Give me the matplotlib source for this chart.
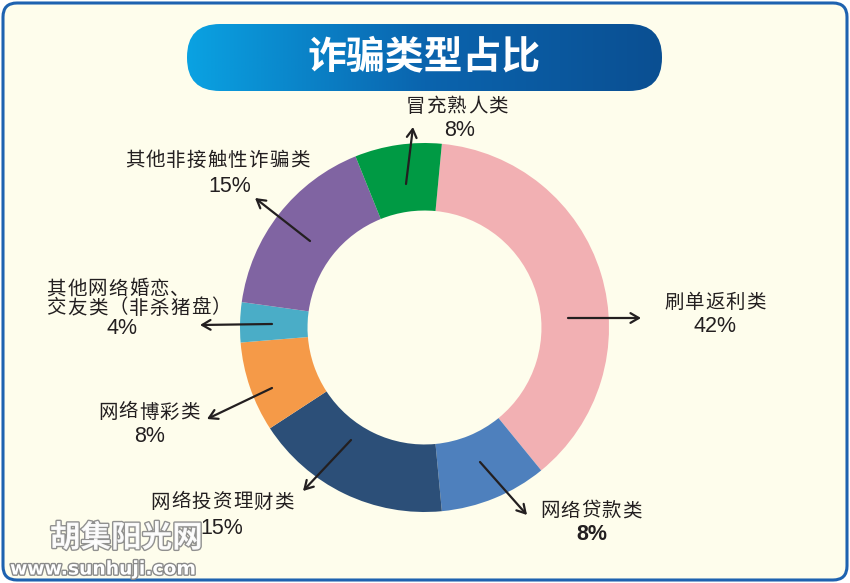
import matplotlib
matplotlib.use("Agg")
import matplotlib.pyplot as plt
import numpy as np
from matplotlib.patches import FancyBboxPatch
from matplotlib.colors import LinearSegmentedColormap
import matplotlib.patheffects as pe

plt.rcParams['font.family'] = ['Noto Sans CJK SC', 'DejaVu Sans']

# ---- data ----
categories = ["刷单返利类", "网络贷款类", "网络投资理财类", "网络博彩类",
              "其他网络婚恋、\n交友类（非杀猪盘）", "其他非接触性诈骗类", "冒充熟人类"]
# arc shares as drawn in the picture
arc_shares = [37.6, 9.4, 17.3, 7.9, 3.5, 16.7, 7.6]
pct_labels = ["42%", "8%", "15%", "8%", "4%", "15%", "8%"]
colors = ["#F2B0B3", "#4E80BD", "#2C4F78", "#F59A48", "#4AADC7", "#8064A2", "#009A44"]
title = "诈骗类型占比"

# ---- layout (pixel coords, y from top) ----
W, H = 850, 583
center_px = (424.5, 327.5)
radius_px = 184.5
ring_width = 0.366
# (name xy, pct xy, arrow start, arrow tip)
label_layout = [
    ((715, 302), (715, 326), (568, 318), (641, 318)),
    ((591, 511), (592, 535), (480, 462), (527, 515)),
    ((222, 502), (222, 528), (351, 440), (303, 491)),
    ((149, 412), (150, 437), (272, 388), (207, 419)),
    ((48, 289), (122, 329), (272, 324), (200, 325)),
    ((217, 160), (230, 187), (310, 241), (255, 198)),
    ((457, 106), (460, 131), (406, 184), (413, 127)),
]
char_adv = 20.6

fig = plt.figure(figsize=(W / 100, H / 100), dpi=100)
fig.patch.set_facecolor("white")
ax = fig.add_axes([0, 0, 1, 1])
ax.set_xlim(0, W)
ax.set_ylim(0, H)
ax.axis("off")

def Y(y):
    return H - y

txt_color = "#231F20"

def spaced(x, y, s, align="center", fs=14):
    n = len(s)
    if align == "center":
        x0 = x - n * char_adv / 2 + char_adv / 2
    else:
        x0 = x + char_adv / 2
    for k, ch in enumerate(s):
        ax.text(x0 + k * char_adv, Y(y), ch, fontsize=fs, color=txt_color,
                ha="center", va="center", zorder=4)

# background panel with border
panel = FancyBboxPatch((3, 3), W - 6, H - 6,
                       boxstyle="round,pad=0,rounding_size=14",
                       facecolor="#FEFDEC", edgecolor="#1E62B0", linewidth=2.2, zorder=0)
ax.add_patch(panel)

# title banner with gradient
bx0, bx1, by0, by1 = 187, 662, 24, 91
grad = np.linspace(0, 1, 256).reshape(1, -1)
cmap = LinearSegmentedColormap.from_list("g", ["#0AA2E2", "#0A64AE", "#0B4F92"])
img = ax.imshow(grad, cmap=cmap, extent=(bx0, bx1, Y(by1), Y(by0)), aspect="auto", zorder=1)
clip = FancyBboxPatch((bx0, Y(by1)), (bx1 - bx0), (by1 - by0),
                      boxstyle="round,pad=0,rounding_size=33",
                      facecolor="none", edgecolor="none")
ax.add_patch(clip)
img.set_clip_path(clip)
ax.text((bx0 + bx1) / 2, Y(57), title, color="white", fontsize=28,
        fontweight="bold", ha="center", va="center", zorder=3)

# donut
wedges, _ = ax.pie(arc_shares, colors=colors, startangle=84.6, counterclock=False,
                   center=(center_px[0], Y(center_px[1])), radius=radius_px,
                   wedgeprops=dict(width=radius_px * ring_width, edgecolor="none"),
                   frame=True)
ax.set_xlim(0, W)
ax.set_ylim(0, H)
ax.set_aspect("equal")
ax.axis("off")
for w in wedges:
    w.set_zorder(2)

for i, (cat, pct) in enumerate(zip(categories, pct_labels)):
    (nx, ny), (px, py), (sx, sy), (tx, ty) = label_layout[i]
    if "\n" in cat:
        lines = cat.split("\n")
        for j, line in enumerate(lines):
            spaced(nx - 2, ny + j * 19, line, align="left")
    else:
        spaced(nx, ny, cat)
    ax.text(px, Y(py), pct, fontsize=15.5, color=txt_color, ha="center", va="center",
            family=["Liberation Sans", "DejaVu Sans"],
            fontweight="bold" if i == 1 else "normal", zorder=4)
    ax.annotate("", xy=(tx, Y(ty)), xytext=(sx, Y(sy)),
                arrowprops=dict(arrowstyle="->,head_length=0.6,head_width=0.35",
                                color="#231F20", lw=1.6, shrinkA=0, shrinkB=0), zorder=5)

# watermark
stroke = [pe.withStroke(linewidth=2.0, foreground="#8A8A8A")]
ax.text(50, Y(538), "胡集阳光网", fontsize=22, color="white", ha="left", va="center",
        fontweight="bold", path_effects=stroke, zorder=6, alpha=0.95)
ax.text(10, Y(569), "www.sunhuji.com", fontsize=13.5, color="white", ha="left", va="center",
        family=["DejaVu Sans"], fontweight="bold", path_effects=stroke, zorder=6)

fig.savefig("out.png", dpi=100, facecolor="white")
